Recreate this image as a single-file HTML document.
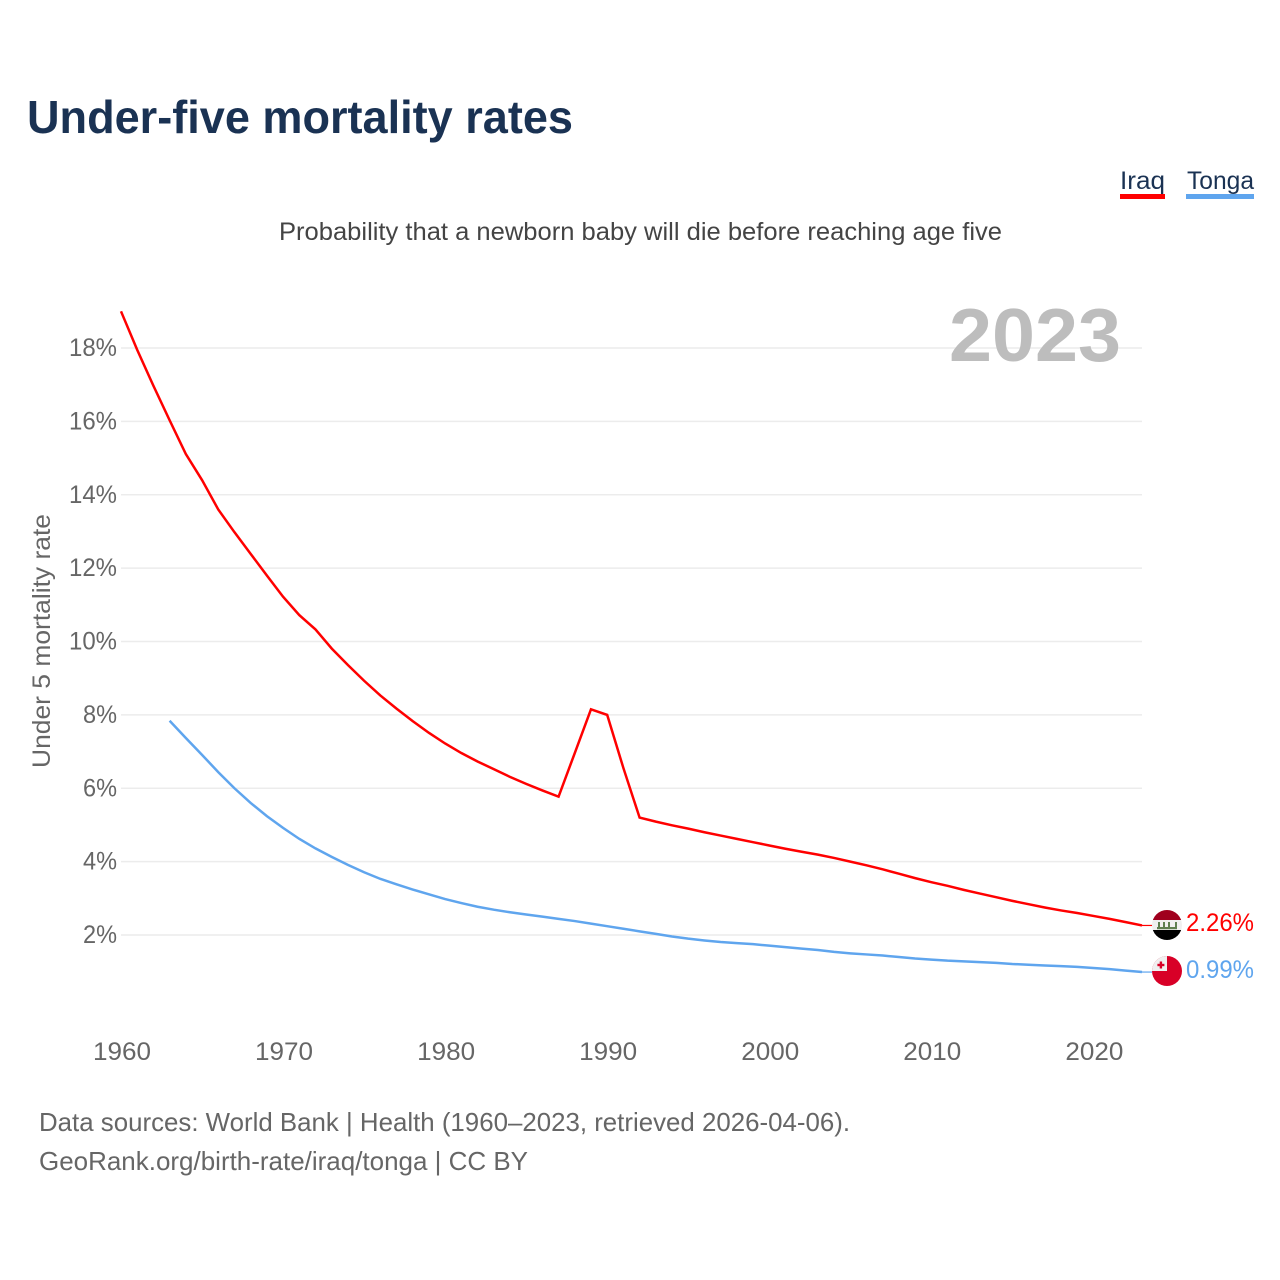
<!DOCTYPE html>
<html lang="en">
<head>
<meta charset="utf-8">
<title>Under-five mortality rates</title>
<style>
html,body{margin:0;padding:0;background:#fff}
svg{display:block}
text{font-family:"Liberation Sans",sans-serif}
</style>
</head>
<body>
<svg id="chart" xmlns="http://www.w3.org/2000/svg" width="1280" height="1280" viewBox="0 0 1280 1280">
  <rect x="0" y="0" width="1280" height="1280" fill="#fff"/>
  <text x="27" y="133" font-size="46" font-weight="700" fill="#1a3253" textLength="546" lengthAdjust="spacingAndGlyphs">Under-five mortality rates</text>
  <g>
    <g>
      <text x="1120" y="189" font-size="25" fill="#1a3253" textLength="45" lengthAdjust="spacingAndGlyphs">Iraq</text>
      <rect x="1120" y="194" width="45" height="5" fill="#ff0000"/>
    </g>
    <g>
      <text x="1187" y="189" font-size="25" fill="#1a3253" textLength="67" lengthAdjust="spacingAndGlyphs">Tonga</text>
      <rect x="1186" y="194" width="68" height="5" fill="#5fa5ee"/>
    </g>
  </g>
  <text x="279" y="240" font-size="25" fill="#444" textLength="723" lengthAdjust="spacingAndGlyphs">Probability that a newborn baby will die before reaching age five</text>
  <g id="grid"></g>
  <g id="y-ticks"></g>
  <g id="x-ticks"></g>
  <text transform="translate(50,768) rotate(-90)" x="0" y="0" font-size="25" fill="#666" textLength="254" lengthAdjust="spacingAndGlyphs">Under 5 mortality rate</text>
  <text x="949" y="361" font-size="75" font-weight="700" fill="#bdbdbd" textLength="172" lengthAdjust="spacingAndGlyphs">2023</text>
  <g id="series"></g>
  <defs>
    <clipPath id="clip-iraq"><circle cx="1167" cy="925" r="15"/></clipPath>
    <clipPath id="clip-tonga"><circle cx="1167" cy="971" r="15"/></clipPath>
  </defs>
  <g clip-path="url(#clip-iraq)">
    <rect x="1152" y="910" width="30" height="10" fill="#a0001e"/>
    <rect x="1152" y="920" width="30" height="10" fill="#f0f0f0"/>
    <rect x="1152" y="930" width="30" height="10" fill="#000"/>
    <rect x="1157" y="927" width="20" height="2.2" fill="#5f7f50"/>
    <rect x="1158" y="922" width="2" height="6" fill="#5f7f50"/>
    <rect x="1163" y="922" width="2" height="6" fill="#5f7f50"/>
    <rect x="1168" y="922" width="2" height="6" fill="#5f7f50"/>
    <rect x="1175" y="922" width="2" height="6" fill="#5f7f50"/>
  </g>
  <g clip-path="url(#clip-tonga)">
    <rect x="1152" y="956" width="30" height="30" fill="#d80027"/>
    <rect x="1152" y="956" width="15" height="15" fill="#f0f0f0"/>
    <rect x="1159.7" y="961.5" width="2.4" height="7" fill="#d80027"/>
    <rect x="1157.4" y="963.8" width="7" height="2.4" fill="#d80027"/>
  </g>
  <text x="1186" y="931" font-size="25" fill="#ff0000" textLength="68" lengthAdjust="spacingAndGlyphs">2.26%</text>
  <text x="1186" y="978" font-size="25" fill="#5fa5ee" textLength="68" lengthAdjust="spacingAndGlyphs">0.99%</text>
  <text x="39" y="1131" font-size="26" fill="#666" textLength="811" lengthAdjust="spacingAndGlyphs">Data sources: World Bank | Health (1960–2023, retrieved 2026-04-06).</text>
  <text x="39" y="1170" font-size="26" fill="#666" textLength="489" lengthAdjust="spacingAndGlyphs">GeoRank.org/birth-rate/iraq/tonga | CC BY</text>
</svg>
<script>
const yTickValues = [2, 4, 6, 8, 10, 12, 14, 16, 18];
const yTickLabels = ["2%", "4%", "6%", "8%", "10%", "12%", "14%", "16%", "18%"];
const xTickYears = [1960, 1970, 1980, 1990, 2000, 2010, 2020];
const xTickLabels = ["1960", "1970", "1980", "1990", "2000", "2010", "2020"];
const iraqStartYear = 1960;
const iraqValues = [19.0, 17.95, 16.97, 16.03, 15.11, 14.4, 13.6, 12.98, 12.39, 11.8,
  11.22, 10.72, 10.33, 9.81, 9.36, 8.93, 8.53, 8.17, 7.83, 7.51,
  7.22, 6.96, 6.73, 6.52, 6.31, 6.12, 5.94, 5.77, 6.96, 8.15,
  8.0, 6.55, 5.2, 5.09, 4.99, 4.9, 4.8, 4.71, 4.62, 4.53,
  4.44, 4.35, 4.27, 4.19, 4.1, 4.0, 3.9, 3.79, 3.67, 3.55,
  3.44, 3.34, 3.23, 3.13, 3.03, 2.93, 2.84, 2.75, 2.67, 2.6,
  2.52, 2.44, 2.35, 2.26];
const tongaStartYear = 1963;
const tongaValues = [7.84, 7.37, 6.91, 6.44, 6.0, 5.6, 5.24, 4.92, 4.62, 4.36,
  4.13, 3.91, 3.71, 3.53, 3.38, 3.24, 3.11, 2.98, 2.87, 2.77,
  2.69, 2.62, 2.56, 2.5, 2.44, 2.38, 2.31, 2.24, 2.17, 2.1,
  2.03, 1.96, 1.9, 1.85, 1.81, 1.78, 1.75, 1.71, 1.67, 1.63,
  1.59, 1.54, 1.5, 1.47, 1.44, 1.4, 1.36, 1.33, 1.3, 1.28,
  1.26, 1.24, 1.21, 1.19, 1.17, 1.15, 1.13, 1.1, 1.07, 1.03, 0.99];

const NS = "http://www.w3.org/2000/svg";
const xScale = function (year) { return 121 + (year - 1960) * (1021 / 63); };
const yScale = function (value) { return 935 - (value - 2) * (587 / 16); };

const gridGroup = document.getElementById("grid");
const yTickGroup = document.getElementById("y-ticks");
const xTickGroup = document.getElementById("x-ticks");
const seriesGroup = document.getElementById("series");

yTickValues.forEach(function (value, i) {
  const line = document.createElementNS(NS, "line");
  line.setAttribute("x1", 121);
  line.setAttribute("x2", 1142);
  line.setAttribute("y1", yScale(value));
  line.setAttribute("y2", yScale(value));
  line.setAttribute("stroke", "#ececec");
  line.setAttribute("stroke-width", "1.6");
  
  
  gridGroup.appendChild(line);

  const label = document.createElementNS(NS, "text");
  label.textContent = yTickLabels[i];
  label.setAttribute("x", yTickLabels[i].length === 3 ? 69 : 83);
  label.setAttribute("y", yScale(value) + 8);
  label.setAttribute("font-size", "25");
  label.setAttribute("fill", "#666");
  label.setAttribute("textLength", yTickLabels[i].length === 3 ? 48 : 34);
  label.setAttribute("lengthAdjust", "spacingAndGlyphs");
  
  
  yTickGroup.appendChild(label);
});

xTickYears.forEach(function (year, i) {
  const label = document.createElementNS(NS, "text");
  label.textContent = xTickLabels[i];
  label.setAttribute("x", xScale(year) - 28);
  label.setAttribute("y", 1060);
  label.setAttribute("font-size", "25");
  label.setAttribute("fill", "#666");
  label.setAttribute("textLength", 58);
  label.setAttribute("lengthAdjust", "spacingAndGlyphs");
  
  
  xTickGroup.appendChild(label);
});

function linePoints(values, startYear) {
  return values.map(function (value, i) {
    return xScale(startYear + i).toFixed(2) + "," + yScale(value).toFixed(2);
  }).join(" ");
}

const iraqLine = document.createElementNS(NS, "polyline");
iraqLine.setAttribute("points", linePoints(iraqValues, iraqStartYear));
iraqLine.setAttribute("fill", "none");
iraqLine.setAttribute("stroke", "#ff0000");
iraqLine.setAttribute("stroke-width", "2.5");


seriesGroup.appendChild(iraqLine);

const tongaLine = document.createElementNS(NS, "polyline");
tongaLine.setAttribute("points", linePoints(tongaValues, tongaStartYear));
tongaLine.setAttribute("fill", "none");
tongaLine.setAttribute("stroke", "#5fa5ee");
tongaLine.setAttribute("stroke-width", "2.5");


seriesGroup.appendChild(tongaLine);

const iraqConnector = document.createElementNS(NS, "line");
iraqConnector.setAttribute("x1", xScale(2023));
iraqConnector.setAttribute("x2", 1152);
iraqConnector.setAttribute("y1", yScale(iraqValues[iraqValues.length - 1]));
iraqConnector.setAttribute("y2", yScale(iraqValues[iraqValues.length - 1]));
iraqConnector.setAttribute("stroke", "#ff0000");
iraqConnector.setAttribute("stroke-width", "1.2");


seriesGroup.appendChild(iraqConnector);

const tongaConnector = document.createElementNS(NS, "line");
tongaConnector.setAttribute("x1", xScale(2023));
tongaConnector.setAttribute("x2", 1152);
tongaConnector.setAttribute("y1", yScale(tongaValues[tongaValues.length - 1]));
tongaConnector.setAttribute("y2", yScale(tongaValues[tongaValues.length - 1]));
tongaConnector.setAttribute("stroke", "#5fa5ee");
tongaConnector.setAttribute("stroke-width", "1.2");


seriesGroup.appendChild(tongaConnector);
</script>
</body>
</html>
